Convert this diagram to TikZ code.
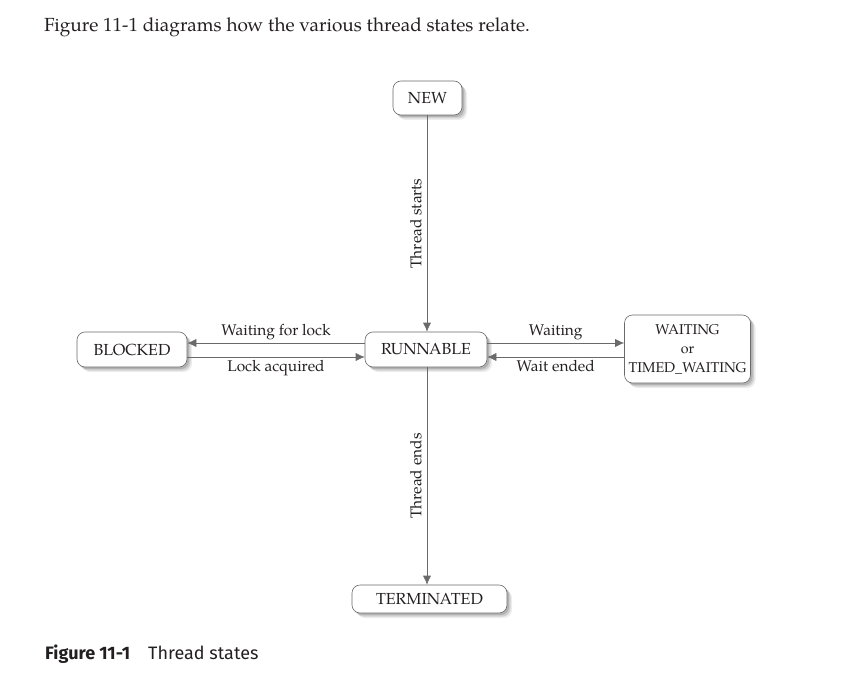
\documentclass[tikz,border=0pt]{standalone}
\usepackage{fontspec}
\setmainfont{TeX Gyre Pagella}
\newfontfamily\capfont{Fira Sans}
\usetikzlibrary{arrows.meta,calc,shadows}
\definecolor{ink}{HTML}{231F20}
\definecolor{edge}{HTML}{6A6A6A}
\begin{document}
\begin{tikzpicture}[x=1pt,y=-1pt,
  softshadow/.style={
    general shadow={shadow xshift=2pt, shadow yshift=-2pt, fill=black, opacity=0.15},
    general shadow={shadow xshift=3.5pt, shadow yshift=-3.5pt, fill=black, opacity=0.12},
    general shadow={shadow xshift=5pt, shadow yshift=-5pt, fill=black, opacity=0.07}},
  state/.style={draw=edge, line width=0.6pt, rounded corners=8pt, fill=white, text=ink,
    font=\fontsize{16}{19}\selectfont, align=center, inner sep=2pt, softshadow},
  conn/.style={draw=edge, line width=0.6pt, -{Latex[length=9pt,width=8pt]}},
  lbl/.style={text=ink, font=\fontsize{15.5}{18}\selectfont, inner sep=3pt}]
\useasboundingbox (0,0) rectangle (862,690);
\node[anchor=base west, text=ink, font=\fontsize{19}{22}\selectfont, inner sep=0pt] (intro) at (44,32) {Figure 11-1 diagrams how the various thread states relate.};
\node[state, minimum width=69pt, minimum height=34pt] (new) at (427.5,98) {NEW};
\node[state, minimum width=122pt, minimum height=35pt] (run) at (426,349.5) {RUNNABLE};
\node[state, minimum width=110pt, minimum height=35pt] (blk) at (132,349.5) {BLOCKED};
\node[state, minimum width=126pt, minimum height=68pt, inner sep=1pt, font=\fontsize{14.2}{19}\selectfont] (wait) at (687.5,349) {WAITING\\or\\TIMED\_WAITING};
\node[state, minimum width=155pt, minimum height=28pt] (term) at (429.5,599) {TERMINATED};
\draw[conn] (new.south -| 427,0) -- node[lbl, midway, rotate=90, anchor=south, inner sep=5pt] {Thread starts} (run.north -| 427,0);
\draw[conn] (run.south -| 427,0) -- node[lbl, midway, rotate=90, anchor=south, inner sep=5pt] {Thread ends} (term.north -| 427,0);
\draw[conn] ($(run.west)+(0,-6.5)$) -- node[lbl, midway, anchor=south] {Waiting for lock} ($(blk.east)+(0,-6.5)$);
\draw[conn] ($(blk.east)+(0,7.5)$) -- node[lbl, midway, anchor=north] {Lock acquired} ($(run.west)+(0,7.5)$);
\draw[conn] ($(run.east)+(0,-6.5)$) -- node[lbl, midway, anchor=south] {Waiting} ($(wait.west)+(0,-6)$);
\draw[conn] ($(wait.west)+(0,8)$) -- node[lbl, midway, anchor=north] {Wait ended} ($(run.east)+(0,7.5)$);
\node[anchor=base west, text=ink, font=\capfont\fontsize{18}{21}\selectfont, inner sep=0pt] (cap) at (45,659) {\textbf{Figure 11-1}\hspace{18pt}Thread states};
\end{tikzpicture}
\end{document}
